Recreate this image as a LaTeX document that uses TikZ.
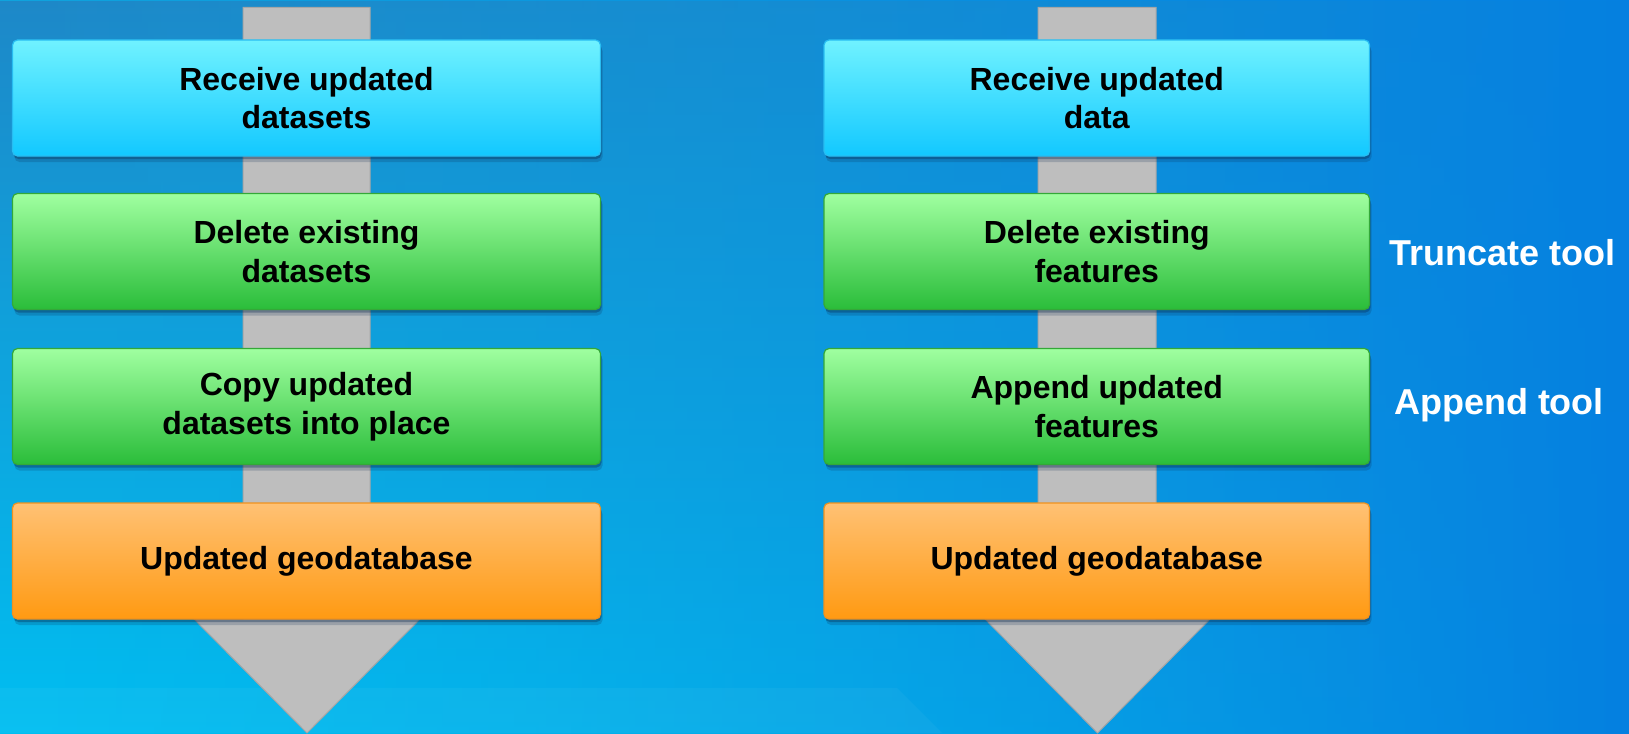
\documentclass[tikz,border=0pt]{standalone}
\usepackage{fontspec}
\setmainfont{Liberation Sans}
\usetikzlibrary{fadings,shadows}
\definecolor{bgTL}{HTML}{1E88C8}
\definecolor{bgBL}{HTML}{00BFF2}
\definecolor{bgL}{HTML}{0FA3DD}
\definecolor{bgR}{HTML}{0580E0}
\definecolor{cyanT}{HTML}{70F2FF}
\definecolor{cyanB}{HTML}{12C8FF}
\definecolor{cyanD}{HTML}{28BDF2}
\definecolor{greenT}{HTML}{A0FFA0}
\definecolor{greenB}{HTML}{2ABD3A}
\definecolor{greenD}{HTML}{34A838}
\definecolor{orangeT}{HTML}{FFC174}
\definecolor{orangeB}{HTML}{FF9A12}
\definecolor{orangeD}{HTML}{F0921E}
\definecolor{shaftc}{HTML}{BEBEBE}
\definecolor{shaftd}{HTML}{A6A6A6}
\definecolor{shadowc}{HTML}{0A2A50}
\tikzfading[name=fadeRight, left color=transparent!0, right color=transparent!100]
\tikzset{
  box/.style={rounded corners=5pt, minimum height=116pt, inner sep=0pt, align=center,
    font=\bfseries\fontsize{32}{38.5}\selectfont, line width=1.2pt, text=black,
    drop shadow={shadow xshift=1pt, shadow yshift=-3pt, opacity=.35, fill=shadowc},
    drop shadow={shadow xshift=2pt, shadow yshift=-6pt, opacity=.2, fill=shadowc}},
  lbox/.style={box, minimum width=588pt},
  rbox/.style={box, minimum width=545.5pt},
  bluebox/.style={top color=cyanT, bottom color=cyanB, draw=cyanD},
  greenbox/.style={top color=greenT, bottom color=greenB, draw=greenD},
  orangebox/.style={top color=orangeT, bottom color=orangeB, draw=orangeD},
  shaft/.style={fill=shaftc, draw=shaftd, line width=1pt},
  toollabel/.style={text=white, font=\bfseries\fontsize{36}{43}\selectfont, inner sep=0pt}
}
\begin{document}
\begin{tikzpicture}[x=1pt,y=-1pt]
\useasboundingbox (0,0) rectangle (1629,733);
% background
\shade[left color=bgL, right color=bgR] (0,0) rectangle (1629,733);
\shade[top color=bgTL, bottom color=bgBL, path fading=fadeRight] (0,0) rectangle (1629,733);
\fill[white, opacity=0.04] (0,688) -- (897,688) -- (942,733) -- (0,733) -- cycle;
% shafts
\draw[shaft] (243,7.5) -- (370,7.5) -- (370,619) -- (420,619) -- (307,733) -- (194,619) -- (243,619) -- cycle;
\draw[shaft] (1038,7.5) -- (1156,7.5) -- (1156,619) -- (1210,619) -- (1097.5,733) -- (985,619) -- (1038,619) -- cycle;
% left column
\node[lbox, bluebox] (L1) at (306.5,98) {Receive updated\\datasets};
\node[lbox, greenbox] (L2) at (306.5,251.5) {Delete existing\\datasets};
\node[lbox, greenbox] (L3) at (306.5,406.5) {Copy updated\\datasets into place};
\node[lbox, orangebox] (L4) at (306.5,561) {Updated geodatabase};
% right column
\node[rbox, bluebox] (R1) at (1096.75,98) {Receive updated\\data};
\node[rbox, greenbox] (R2) at (1096.75,251.5) {Delete existing\\features};
\node[rbox, greenbox] (R3) at (1096.75,406.5) {Append updated\\features};
\node[rbox, orangebox] (R4) at (1096.75,561) {Updated geodatabase};
% tool labels
\node[toollabel] (T1) at (1502,253) {Truncate tool};
\node[toollabel] (T2) at (1499,405) {Append tool};
\end{tikzpicture}
\end{document}
